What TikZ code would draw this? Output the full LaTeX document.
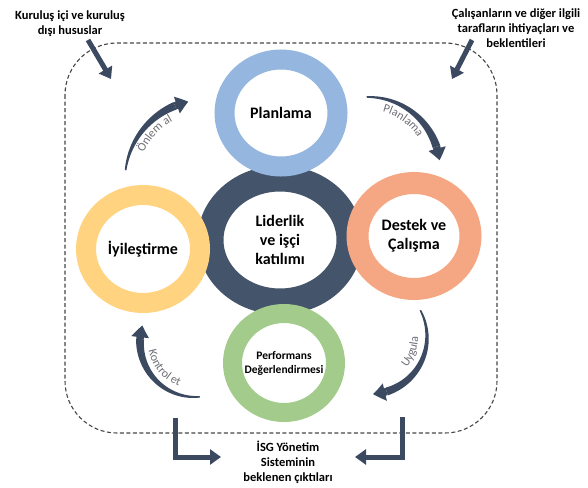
\documentclass[tikz,border=0pt]{standalone}
\usepackage{fontspec}
\setmainfont{Carlito}
\usetikzlibrary{shapes.geometric, arrows.meta, bending, decorations.text}

\definecolor{ringdark}{RGB}{68,84,106}
\definecolor{ringblue}{RGB}{149,182,222}
\definecolor{ringorange}{RGB}{245,166,130}
\definecolor{ringyellow}{RGB}{255,211,128}
\definecolor{ringgreen}{RGB}{163,204,140}
\definecolor{arrowdark}{RGB}{59,74,97}
\definecolor{labelgray}{RGB}{110,110,118}

% tapered cycle arrow: centre x, centre y, radius, start angle, end angle (clockwise)
\newcommand{\cyclearc}[5]{%
  \fill[arrowdark] plot[domain=#4:#5, samples=30]
      ({#1+(#3+0.8+3.2*(\x-(#4))/((#5)-(#4)))*cos(\x)}, {#2+(#3+0.8+3.2*(\x-(#4))/((#5)-(#4)))*sin(\x)})
    -- plot[domain=#5:#4, samples=30]
      ({#1+(#3-0.8-3.2*(\x-(#4))/((#5)-(#4)))*cos(\x)}, {#2+(#3-0.8-3.2*(\x-(#4))/((#5)-(#4)))*sin(\x)})
    -- cycle;
  \draw[arrowdark, line width=7.5pt, -{Triangle[width=17pt,length=12pt,bend]}]
    ({#1+#3*cos(#5)}, {#2+#3*sin(#5)}) arc[start angle=#5, end angle={#5-800/#3}, radius=#3pt];
}

\begin{document}
\begin{tikzpicture}[
    x=1pt, y=1pt,
    ring/.style={draw, ellipse, fill=white, inner sep=0pt},
    ringtext/.style={align=center, font=\fontsize{16}{19}\selectfont\bfseries},
    note/.style={align=center, font=\fontsize{12.5}{15}\selectfont\bfseries},
    bigarrow/.style={draw=arrowdark, line width=5pt, -{Triangle[width=15pt,length=11pt]}},
    arclabel/.style={decorate, decoration={text along path, text align=center, text color=labelgray}},
    boundary/.style={draw=gray!55!black, line width=1.1pt, dash pattern=on 4pt off 2.5pt, rounded corners=52pt}
]
\useasboundingbox (0,0) rectangle (588,-487);

% -------------------------
% Dashed system boundary
% -------------------------
\path[boundary] (65,-43) rectangle (497,-433);

% -------------------------
% Rings (centre one first)
% -------------------------
\node[ring, draw=ringdark, line width=26pt, minimum width=139pt, minimum height=123pt] (LeadRing) at (280,-240) {};
\node[ring, draw=ringblue, line width=20pt, minimum width=113pt, minimum height=107pt] (PlanRing) at (281,-113) {};
\node[ring, draw=ringorange, line width=22pt, minimum width=113pt, minimum height=106pt] (SuppRing) at (414,-236) {};
\node[ring, draw=ringyellow, line width=20pt, minimum width=114pt, minimum height=108pt] (ImpRing) at (143,-249) {};
\node[ring, draw=ringgreen, line width=19pt, minimum width=103pt, minimum height=99pt] (PerfRing) at (284,-363) {};

\node[ringtext] (LeadText) at (LeadRing) {Liderlik\\ve işçi\\katılımı};
\node[ringtext] (PlanText) at (PlanRing) {Planlama};
\node[ringtext] (SuppText) at (SuppRing) {Destek ve\\Çalışma};
\node[ringtext] (ImpText) at (ImpRing) {İyileştirme};
\node[align=center, font=\fontsize{11.5}{14}\selectfont\bfseries] (PerfText) at (PerfRing) {Performans\\Değerlendirmesi};

% -------------------------
% Inputs and outputs
% -------------------------
\node[note] (Issues) at (70,-24) {Kuruluş içi ve kuruluş\\dışı hususlar};
\node[note] (Needs) at (516,-28) {Çalışanların ve diğer ilgili\\tarafların ihtiyaçları ve\\beklentileri};
\node[note] (Outcomes) at (288,-462) {İSG Yönetim\\Sisteminin\\beklenen çıktıları};

\coordinate (IssuesFrom) at (88,-40);
\coordinate (IssuesTo) at (111,-79);
\coordinate (NeedsFrom) at (472,-40);
\coordinate (NeedsTo) at (452,-79);
\draw[bigarrow] (IssuesFrom) -- (IssuesTo);
\draw[bigarrow] (NeedsFrom) -- (NeedsTo);

\coordinate (OutLeftFrom) at (175,-418);
\coordinate (OutLeftTo) at (221,-457);
\coordinate (OutRightFrom) at (402,-417);
\coordinate (OutRightTo) at (355,-457);
\draw[bigarrow] (OutLeftFrom) |- (OutLeftTo);
\draw[bigarrow] (OutRightFrom) |- (OutRightTo);

% -------------------------
% Cycle arrows
% -------------------------
\cyclearc{205}{-180}{80}{173}{112}
\cyclearc{368}{-169}{72}{91}{18}
\cyclearc{370}{-337}{57}{28}{-73}
\cyclearc{195}{-342}{55}{-85}{-183}

\coordinate (OnlemC) at (205,-180);
\coordinate (PlanC) at (368,-169);
\coordinate (UygulaC) at (370,-337);
\coordinate (KontrolC) at (195,-342);

\path[arclabel, decoration={text={|\fontsize{12}{12}\selectfont|Önlem al}}]
    ([shift={(178:67pt)}]OnlemC) arc[start angle=178, end angle=97, radius=67pt];
\path[arclabel, decoration={text={|\fontsize{12}{12}\selectfont|Planlama}}]
    ([shift={(100:59pt)}]PlanC) arc[start angle=100, end angle=8, radius=59pt];
\path[arclabel, decoration={text={|\fontsize{12}{12}\selectfont|Uygula}}]
    ([shift={(-65:48pt)}]UygulaC) arc[start angle=-65, end angle=25, radius=48pt];
\path[arclabel, decoration={text={|\fontsize{12}{12}\selectfont|Kontrol et}}]
    ([shift={(170:47pt)}]KontrolC) arc[start angle=170, end angle=270, radius=47pt];

\end{tikzpicture}
\end{document}
